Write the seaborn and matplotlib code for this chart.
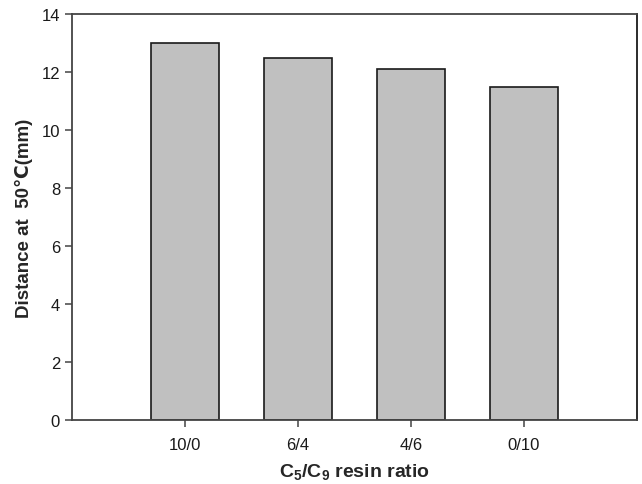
import matplotlib
matplotlib.use("Agg")
import matplotlib.pyplot as plt
import seaborn as sns
import pandas as pd

# data
ratios = ["10/0", "6/4", "4/6", "0/10"]
distance = [13.0, 12.5, 12.1, 11.5]

sns.set_style("ticks")
plt.rcParams["font.family"] = ["Liberation Sans", "DejaVu Sans"]
plt.rcParams["mathtext.fontset"] = "custom"
plt.rcParams["mathtext.rm"] = "Liberation Sans"
plt.rcParams["mathtext.bf"] = "Liberation Sans:bold"
plt.rcParams["mathtext.default"] = "regular"

df = pd.DataFrame({"ratio": ratios, "distance": distance})

fig = plt.figure(figsize=(6.42, 4.85), dpi=100)
ax = fig.add_axes([0.112, 0.132, 0.880, 0.837])

sns.barplot(data=df, x="ratio", y="distance", ax=ax, color="#c0c0c0",
            saturation=1, edgecolor="#1a1a1a", linewidth=1.2, width=0.6)

ax.set_xlim(-1, 4)
ax.set_ylim(0, 14)
ax.set_yticks(range(0, 15, 2))

for s in ax.spines.values():
    s.set_visible(True)
    s.set_color("#444444")
    s.set_linewidth(1.3)
ax.spines["right"].set_color("#1a1a1a")

ax.tick_params(direction="out", length=5, width=1.1, color="#444444",
               labelsize=12, labelcolor="#1a1a1a")
ax.tick_params(axis="x", pad=7)

ax.set_xlabel(r"C$_{\mathbf{5}}$/C$_{\mathbf{9}}$ resin ratio", fontsize=14,
              fontweight="bold", labelpad=7)
ax.set_ylabel("Distance at  50\u2103(mm)", fontsize=13.5, fontweight="bold",
              labelpad=6)

fig.savefig("out.png", dpi=100)
